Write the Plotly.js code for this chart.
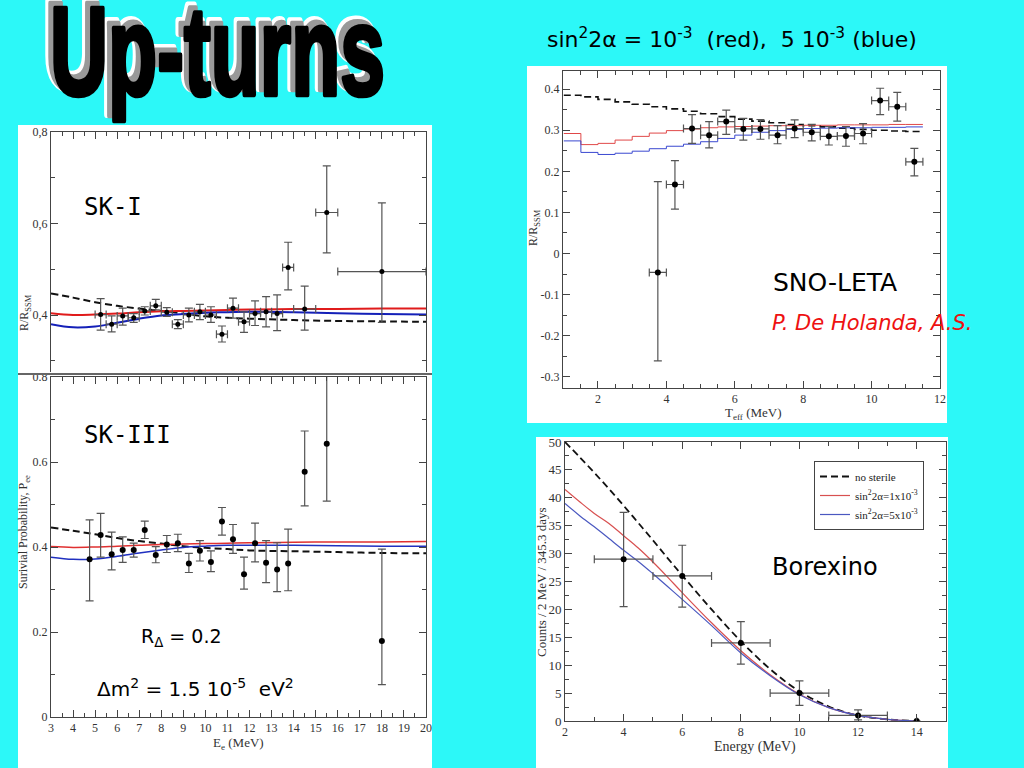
<!DOCTYPE html>
<html><head><meta charset="utf-8">
<script src="https://cdn.plot.ly/plotly-3.0.1.min.js"></script>
<style>html,body{margin:0;padding:0;background:#2cf8f8;} #chart{width:1024px;height:768px;}</style>
</head><body><div id="chart"></div>
<script>
// ---------------- DATA ----------------
// SK-I
const skI_x = [5.25,5.75,6.25,6.75,7.25,7.75,8.25,8.75,9.25,9.75,10.25,10.75,11.25,11.75,12.25,12.75,13.25,13.75,14.5,15.5,18];
const skI_y = [0.401,0.380,0.398,0.394,0.409,0.420,0.406,0.380,0.400,0.407,0.400,0.358,0.415,0.385,0.403,0.407,0.403,0.504,0.413,0.624,0.495];
const skI_errUp = [0.035,0.018,0.017,0.009,0.009,0.014,0.010,0.010,0.015,0.016,0.018,0.018,0.022,0.022,0.028,0.033,0.041,0.055,0.050,0.102,0.150];
const skI_errDn = [0.034,0.017,0.020,0.010,0.009,0.009,0.009,0.010,0.015,0.017,0.016,0.017,0.022,0.023,0.026,0.033,0.037,0.049,0.046,0.088,0.111];
const skI_xErr = [0.25,0.25,0.25,0.25,0.25,0.25,0.25,0.25,0.25,0.25,0.25,0.25,0.25,0.25,0.25,0.25,0.25,0.25,0.5,0.5,2];
const skCurveX = [3,4,5,6,7,8,9,10,11,12,14,16,18,20];
const skI_noSterile = [0.447,0.438,0.428,0.420,0.414,0.409,0.403,0.397,0.394,0.392,0.389,0.387,0.386,0.385];
const skI_red = [0.404,0.400,0.401,0.403,0.406,0.408,0.409,0.410,0.411,0.412,0.413,0.413,0.414,0.414];
const skI_blue = [0.380,0.373,0.375,0.383,0.392,0.399,0.402,0.405,0.406,0.407,0.406,0.404,0.402,0.401];

// SK-III
const skIII_x = [4.75,5.25,5.75,6.25,6.75,7.25,7.75,8.25,8.75,9.25,9.75,10.25,10.75,11.25,11.75,12.25,12.75,13.25,13.75,14.5,15.5,18];
const skIII_y = [0.371,0.428,0.383,0.393,0.393,0.440,0.381,0.406,0.409,0.361,0.391,0.365,0.460,0.418,0.336,0.409,0.363,0.347,0.361,0.577,0.643,0.179];
const skIII_errUp = [0.093,0.051,0.052,0.031,0.016,0.021,0.020,0.021,0.021,0.024,0.024,0.026,0.033,0.035,0.040,0.047,0.052,0.063,0.081,0.096,0.220,0.216];
const skIII_errDn = [0.098,0.052,0.037,0.029,0.017,0.020,0.018,0.019,0.020,0.021,0.024,0.023,0.032,0.033,0.035,0.044,0.047,0.052,0.064,0.080,0.135,0.103];
const skIII_noSterile = [0.446,0.438,0.430,0.421,0.414,0.408,0.402,0.398,0.395,0.392,0.390,0.388,0.386,0.385];
const skIII_red = [0.401,0.399,0.400,0.402,0.404,0.406,0.407,0.408,0.409,0.410,0.411,0.412,0.412,0.413];
const skIII_blue = [0.376,0.371,0.372,0.378,0.386,0.393,0.399,0.402,0.404,0.404,0.404,0.403,0.402,0.402];

// SNO-LETA
const sno_x = [3.75,4.25,4.75,5.25,5.75,6.25,6.75,7.25,7.75,8.25,8.75,9.25,9.75,10.25,10.75,11.25];
const sno_y = [-0.046,0.168,0.304,0.288,0.321,0.303,0.303,0.288,0.304,0.295,0.285,0.286,0.292,0.372,0.357,0.223];
const sno_errUp = [0.221,0.058,0.034,0.033,0.028,0.026,0.023,0.023,0.021,0.019,0.024,0.023,0.024,0.030,0.035,0.033];
const sno_errDn = [0.215,0.060,0.036,0.031,0.031,0.027,0.025,0.021,0.022,0.021,0.021,0.025,0.025,0.034,0.035,0.034];
const sno_xErr = [0.25,0.25,0.25,0.25,0.25,0.25,0.25,0.25,0.25,0.25,0.25,0.25,0.25,0.25,0.25,0.25];
const sno_edges = [1,1.5,2,2.5,3,3.5,4,4.5,5,5.5,6,6.5,7,7.5,8,8.5,9,9.5,10,10.5,11,11.5];
const sno_noSterile = [0.385,0.381,0.375,0.369,0.363,0.357,0.352,0.346,0.340,0.333,0.327,0.322,0.318,0.314,0.311,0.308,0.305,0.302,0.300,0.298,0.297];
const sno_red = [0.292,0.265,0.268,0.276,0.285,0.293,0.299,0.303,0.306,0.308,0.309,0.310,0.311,0.311,0.312,0.312,0.313,0.313,0.313,0.314,0.314];
const sno_blue = [0.274,0.246,0.241,0.244,0.249,0.255,0.261,0.266,0.272,0.280,0.288,0.295,0.299,0.302,0.304,0.305,0.306,0.306,0.307,0.307,0.308];

// Borexino
const bx_x = [4,6,8,10,12,14];
const bx_y = [29,26,14,5,1,0];
const bx_errUp = [8.4,5.5,3.8,2.2,1.0,0];
const bx_errDn = [8.5,5.6,3.8,2.2,0.8,0];
const bx_xErr = [1,1,1,1,1,0];
const bxCurveX = [2,2.5,3,3.5,4,4.5,5,5.5,6,7,8,9,10,11,12,13,14];
const bx_noSterile = [50,47.3,44.5,41.6,38.6,35.5,32.4,29.2,26.1,20.0,14.3,9.3,5.3,2.6,1.0,0.3,0];
const bx_red = [41.5,39.3,37.2,35.4,33.2,31.0,28.5,25.8,23.0,17.6,12.6,8.3,4.8,2.4,1.0,0.3,0];
const bx_blue = [39.0,36.8,34.8,32.7,30.6,28.6,26.4,24.1,21.8,17.1,12.2,8.1,4.7,2.4,1.0,0.3,0];

const legendNames = ['no sterile','sin<sup>2</sup>2\u03b1=1x10<sup>-3</sup>','sin<sup>2</sup>2\u03b1=5x10<sup>-3</sup>'];

// ---------------- HELPERS ----------------
const W = 1024, H = 768;
const px = v => v / W;
const py = v => 1 - v / H;
const repLast = a => a.concat([a[a.length - 1]]);

function curve(x, y, xa, ya, color, dash, width, name, showlegend, shape) {
  return {x: x, y: y, xaxis: xa, yaxis: ya, mode: 'lines', name: name, showlegend: !!showlegend,
    line: {color: color, dash: dash, width: width, shape: shape || 'spline'}, hoverinfo: 'skip'};
}
function points(x, y, up, dn, xerr, xa, ya, size) {
  const t = {x: x, y: y, xaxis: xa, yaxis: ya, mode: 'markers', showlegend: false,
    marker: {color: 'black', size: size},
    error_y: {type: 'data', symmetric: false, array: up, arrayminus: dn, color: '#555', thickness: 1.2, width: 4}};
  if (xerr) t.error_x = {type: 'data', array: xerr, color: '#555', thickness: 1.2, width: 4};
  return t;
}

const DASH = '7px,4px';
const traces = [
  curve(skCurveX, skI_noSterile, 'x', 'y', '#111', DASH, 2, 'no sterile', false),
  curve(skCurveX, skI_red, 'x', 'y', '#e01b1b', 'solid', 2, 'red', false),
  curve(skCurveX, skI_blue, 'x', 'y', '#1420b8', 'solid', 2, 'blue', false),
  points(skI_x, skI_y, skI_errUp, skI_errDn, skI_xErr, 'x', 'y', 5),

  curve(skCurveX, skIII_noSterile, 'x2', 'y2', '#111', DASH, 2, 'no sterile', false),
  curve(skCurveX, skIII_red, 'x2', 'y2', '#e03030', 'solid', 1.5, 'red', false),
  curve(skCurveX, skIII_blue, 'x2', 'y2', '#2030c0', 'solid', 1.5, 'blue', false),
  points(skIII_x, skIII_y, skIII_errUp, skIII_errDn, null, 'x2', 'y2', 6),

  curve(sno_edges, repLast(sno_noSterile), 'x3', 'y3', '#111', DASH, 1.6, 'no sterile', false, 'hv'),
  curve(sno_edges, repLast(sno_red), 'x3', 'y3', '#e04848', 'solid', 1, 'red', false, 'hv'),
  curve(sno_edges, repLast(sno_blue), 'x3', 'y3', '#3a48d0', 'solid', 1, 'blue', false, 'hv'),
  points(sno_x, sno_y, sno_errUp, sno_errDn, sno_xErr, 'x3', 'y3', 6),

  curve(bxCurveX, bx_noSterile, 'x4', 'y4', '#111', DASH, 1.8, legendNames[0], true),
  curve(bxCurveX, bx_red, 'x4', 'y4', '#d85050', 'solid', 1.2, legendNames[1], true),
  curve(bxCurveX, bx_blue, 'x4', 'y4', '#4a58c0', 'solid', 1.2, legendNames[2], true),
  points(bx_x, bx_y, bx_errUp, bx_errDn, bx_xErr, 'x4', 'y4', 6)
];

const tickFont = {family: 'Liberation Serif, Times New Roman, serif', size: 12, color: '#333'};
function axis(domain, range, extra) {
  return Object.assign({
    domain: domain, range: range, showgrid: false, zeroline: false, showline: true,
    linecolor: '#444', linewidth: 1, ticks: 'inside', ticklen: 7, tickcolor: '#444', tickwidth: 1,
    mirror: 'ticks', tickfont: tickFont, fixedrange: true
  }, extra || {});
}

const layout = {
  width: W, height: H, margin: {l: 0, r: 0, t: 0, b: 0},
  paper_bgcolor: '#2cf8f8', plot_bgcolor: 'white',
  showlegend: true,
  legend: {x: px(924), y: py(461), xanchor: 'right', yanchor: 'top', bgcolor: 'white',
    bordercolor: '#444', borderwidth: 1, font: {family: 'Liberation Serif, serif', size: 11, color: '#222'},
    itemwidth: 30, tracegroupgap: 0},
  xaxis: axis([px(51), px(426)], [3, 20], {anchor: 'y', side: 'top', showticklabels: false, mirror: false, dtick: 1,
    minor: {dtick: 0.5, ticklen: 4, ticks: 'inside', tickcolor: '#444'}}),
  yaxis: axis([py(372), py(132)], [0.2754, 0.8], {anchor: 'x', tickmode: 'array', tickvals: [0.4, 0.6, 0.8],
    ticktext: ['0,4', '0,6', '0,8'], minor: {tickmode: 'array', tickvals: [0.3, 0.5, 0.7], ticklen: 4, ticks: 'inside', tickcolor: '#444'}}),
  xaxis2: axis([px(51), px(426)], [3, 20], {anchor: 'y2', dtick: 1,
    minor: {dtick: 0.5, ticklen: 4, ticks: 'inside', tickcolor: '#444'}}),
  yaxis2: axis([py(717), py(377)], [0, 0.8], {anchor: 'x2', dtick: 0.2,
    minor: {dtick: 0.1, ticklen: 4, ticks: 'inside', tickcolor: '#444'}}),
  xaxis3: axis([px(563), px(940)], [0.977, 12], {anchor: 'y3', dtick: 2, tick0: 0,
    minor: {dtick: 0.5, ticklen: 4, ticks: 'inside', tickcolor: '#444'}}),
  yaxis3: axis([py(388), py(71)], [-0.327, 0.444], {anchor: 'x3', tickmode: 'array',
    tickvals: [-0.3, -0.2, -0.1, 0, 0.1, 0.2, 0.3, 0.4],
    ticktext: ['-0.3', '-0.2', '-0.1', '0', '0.1', '0.2', '0.3', '0.4'],
    minor: {dtick: 0.05, tick0: 0, ticklen: 4, ticks: 'inside', tickcolor: '#444'}}),
  xaxis4: axis([px(565), px(946)], [2, 15], {anchor: 'y4', dtick: 2, tick0: 0,
    minor: {dtick: 1, ticklen: 4, ticks: 'inside', tickcolor: '#444'}}),
  yaxis4: axis([py(721), py(442)], [0, 50], {anchor: 'x4', dtick: 5,
    minor: {dtick: 2.5, ticklen: 4, ticks: 'inside', tickcolor: '#444'}, tickfont: Object.assign({}, tickFont, {size: 13})}),
  shapes: [
    {type: 'rect', xref: 'paper', yref: 'paper', x0: px(18), x1: px(432), y0: py(373), y1: py(125), fillcolor: 'white', line: {width: 0}, layer: 'below'},
    {type: 'rect', xref: 'paper', yref: 'paper', x0: px(18), x1: px(432), y0: py(768), y1: py(375), fillcolor: 'white', line: {width: 0}, layer: 'below'},
    {type: 'line', xref: 'paper', yref: 'paper', x0: px(18), x1: px(432), y0: py(374), y1: py(374), line: {color: '#666', width: 2}},
    {type: 'rect', xref: 'paper', yref: 'paper', x0: px(527), x1: px(947), y0: py(423), y1: py(66), fillcolor: 'white', line: {width: 0}, layer: 'below'},
    {type: 'rect', xref: 'paper', yref: 'paper', x0: px(536), x1: px(948), y0: py(768), y1: py(437), fillcolor: 'white', line: {width: 0}, layer: 'below'}
  ],
  annotations: []
};

const TITLE_FONT = 'Liberation Sans, Arial, sans-serif';
['white', '#999', 'black'].forEach(c => layout.annotations.push({
  xref: 'paper', yref: 'paper', x: px(212), y: py(60), text: 'Up-turns', showarrow: false,
  font: {family: TITLE_FONT, size: 80, color: c, weight: 'bold'}
}));

function note(text, x, y, size, opts) {
  layout.annotations.push(Object.assign({xref: 'paper', yref: 'paper', x: px(x), y: py(y), text: text,
    showarrow: false, xanchor: 'left', yanchor: 'middle',
    font: {family: 'DejaVu Sans, sans-serif', size: size, color: 'black'}}, opts || {}));
}
const MONO = {family: 'DejaVu Sans Mono, monospace', size: 24, color: 'black'};
note('sin<sup>2</sup>2\u03b1 = 10<sup>-3</sup>  (red),  5 10<sup>-3</sup> (blue)', 545, 38, 22);
note('SK-I', 82, 207, 24, {font: MONO});
note('SK-III', 82, 435, 24, {font: MONO});
note('R<sub>\u0394</sub> = 0.2', 139, 637, 19);
note('\u0394m<sup>2</sup> = 1.5 10<sup>-5</sup>  eV<sup>2</sup>', 95, 688, 20);
note('SNO-LETA', 771, 283, 25);
note('<i>P. De Holanda, A.S.</i>', 770, 323, 21, {font: {family: 'DejaVu Sans, sans-serif', size: 21, color: '#ee1111'}});
note('Borexino', 770, 567, 24);

function axTitle(text, x, y, angle, size) {
  layout.annotations.push({xref: 'paper', yref: 'paper', x: px(x), y: py(y), text: text, showarrow: false,
    textangle: angle, xanchor: 'center', yanchor: 'middle',
    font: {family: 'Liberation Serif, Times New Roman, serif', size: size || 12, color: '#333'}});
}
axTitle('R/R<sub>SSM</sub>', 25, 313, -90);
axTitle('Surivial Probability, P<sub>ee</sub>', 24, 532, -90);
axTitle('E<sub>e</sub> (MeV)', 238, 743, 0, 13);
axTitle('R/R<sub>SSM</sub>', 534, 228, -90);
axTitle('T<sub>eff</sub> (MeV)', 753, 413, 0, 13);
axTitle('Counts / 2 MeV / 345.3 days', 541, 582, -90, 13);
axTitle('Energy (MeV)', 755, 747, 0, 14);

const gd = document.getElementById('chart');

// Stretch the WordArt-like title vertically (still real text)
function stretchTitle() {
  const specs = [
    {idx: 0, dx: -7, dy: -7, stroke: 'white', sw: 5},
    {idx: 1, dx: -5, dy: -5, stroke: '#999', sw: 3},
    {idx: 2, dx: 0, dy: 0, stroke: 'black', sw: 3}
  ];
  const LEFT = 50, BASE = 95, CAPTOP = 5, WIDTH = 335;
  specs.forEach(s => {
    const g = gd.querySelector('g.annotation[data-index="' + s.idx + '"]');
    if (!g) return;
    const t = g.querySelector('text');
    t.removeAttribute('transform');
    const b = t.getBBox();
    const m = t.getScreenCTM();
    const fs = b.height / 1.117;
    const baseLocal = b.y + fs * 0.905;
    const sy = (BASE - CAPTOP) / (0.716 * fs);
    const sx = WIDTH / b.width;
    const tx = LEFT + s.dx - m.e, ty = BASE + s.dy - m.f;
    t.setAttribute('transform', 'translate(' + tx + ',' + ty + ') scale(' + sx + ',' + sy + ') translate(' + (-b.x) + ',' + (-baseLocal) + ')');
    t.style.stroke = s.stroke;
    t.style.strokeWidth = s.sw + 'px';
    t.style.strokeLinejoin = 'round';
  });
}

Plotly.newPlot(gd, traces, layout, {staticPlot: true, displayModeBar: false}).then(stretchTitle);
</script></body></html>
